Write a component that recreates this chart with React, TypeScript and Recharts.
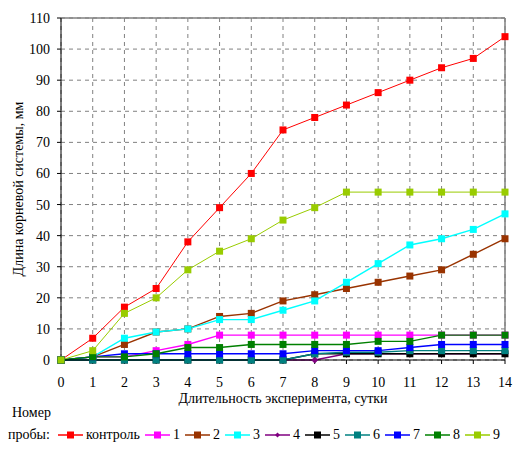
import React from "react";
import {
  LineChart,
  Line,
  XAxis,
  YAxis,
  CartesianGrid,
  ReferenceLine,
  Label,
} from "recharts";

const days = [0, 1, 2, 3, 4, 5, 6, 7, 8, 9, 10, 11, 12, 13, 14];
const yTicks = [0, 10, 20, 30, 40, 50, 60, 70, 80, 90, 100, 110];

const control = [0, 7, 17, 23, 38, 49, 60, 74, 78, 82, 86, 90, 94, 97, 104];
const s1 = [0, 1, 1, 3, 5, 8, 8, 8, 8, 8, 8, 8, 8, 8, 8];
const s2 = [0, 1, 5, 9, 10, 14, 15, 19, 21, 23, 25, 27, 29, 34, 39];
const s3 = [0, 1, 7, 9, 10, 13, 13, 16, 19, 25, 31, 37, 39, 42, 47];
const s4 = [0, 0, 0, 0, 0, 0, 0, 0, 0, 2, 2, 2, 2, 2, 2];
const s5 = [0, 0, 0, 0, 0, 0, 0, 0, 2, 2, 2, 2, 2, 2, 2];
const s6 = [0, 0, 0, 0, 0, 0, 0, 0, 2, 2.5, 2.5, 3, 3, 3, 3];
const s7 = [0, 1, 2, 2, 2, 2, 2, 2, 3, 3, 3, 4, 5, 5, 5];
const s8 = [0, 1, 1, 2, 4, 4, 5, 5, 5, 5, 6, 6, 8, 8, 8];
const s9 = [0, 3, 15, 20, 29, 35, 39, 45, 49, 54, 54, 54, 54, 54, 54];

const seriesNames = ["контроль", "1", "2", "3", "4", "5", "6", "7", "8", "9"];
const seriesValues = [control, s1, s2, s3, s4, s5, s6, s7, s8, s9];

const colors = [
  "#ff0000",
  "#ff00ff",
  "#993300",
  "#00ffff",
  "#800080",
  "#000000",
  "#008080",
  "#0000ff",
  "#008000",
  "#99cc00",
];

const FONT = '"Liberation Serif", "Times New Roman", serif';

const data = days.map((day, i) => {
  const row: Record<string, number> = { day };
  seriesValues.forEach((vals, k) => {
    row["s" + k] = vals[i];
  });
  return row;
});

function makeDot(color: string, diamond: boolean) {
  return (props: any) => {
    const { cx, cy, index } = props;
    if (cx == null || cy == null) return <g key={index} />;
    if (diamond) {
      return (
        <path
          key={index}
          d={`M${cx},${cy - 3} L${cx + 3},${cy} L${cx},${cy + 3} L${cx - 3},${cy} Z`}
          fill={color}
          stroke={color}
        />
      );
    }
    return <rect key={index} x={cx - 3.5} y={cy - 3.5} width={7} height={7} fill={color} />;
  };
}

function LegendSymbol({ color, diamond }: { color: string; diamond: boolean }) {
  return (
    <svg width={25} height={12} style={{ display: "block" }}>
      <line x1={0} y1={6} x2={25} y2={6} stroke={color} strokeWidth={1.5} />
      {diamond ? (
        <path d="M12.5,3.5 L15,6 L12.5,8.5 L10,6 Z" fill={color} />
      ) : (
        <rect x={9} y={2.5} width={7} height={7} fill={color} />
      )}
    </svg>
  );
}

export default function App() {
  return (
    <div
      style={{
        position: "fixed",
        left: 0,
        top: 0,
        width: 519,
        height: 453,
        background: "#fff",
        fontFamily: FONT,
      }}
    >
      <LineChart
        width={519}
        height={453}
        data={data}
        margin={{ top: 18, right: 14, left: 0, bottom: 63 }}
      >
        <CartesianGrid stroke="#808080" strokeDasharray="4 4" />
        <XAxis
          dataKey="day"
          type="number"
          domain={[0, 14]}
          ticks={days}
          interval={0}
          height={30}
          axisLine={{ stroke: "#000" }}
          tickLine={{ stroke: "#000" }}
          tickSize={4}
          tickMargin={13}
          tick={{ fill: "#000", fontSize: 14, fontFamily: FONT }}
        >
          <Label
            content={({ viewBox }: any) => (
              <text
                x={viewBox.x + viewBox.width / 2}
                y={403}
                textAnchor="middle"
                fontSize={14}
                fontFamily={FONT}
                fill="#000"
              >
                Длительность эксперимента, сутки
              </text>
            )}
          />
        </XAxis>
        <YAxis
          type="number"
          domain={[0, 110]}
          ticks={yTicks}
          interval={0}
          width={61}
          axisLine={{ stroke: "#000" }}
          tickLine={{ stroke: "#000" }}
          tickSize={4}
          tickMargin={7}
          tick={{ fill: "#000", fontSize: 14, fontFamily: FONT }}
        >
          <Label
            content={({ viewBox }: any) => {
              const cx = 18;
              const cy = viewBox.y + viewBox.height / 2;
              return (
                <text
                  x={cx}
                  y={cy}
                  transform={`rotate(-90 ${cx} ${cy})`}
                  textAnchor="middle"
                  dominantBaseline="central"
                  fontSize={14}
                  fontFamily={FONT}
                  fill="#000"
                >
                  Длина корневой системы, мм
                </text>
              );
            }}
          />
        </YAxis>
        <ReferenceLine y={110} stroke="#808080" strokeWidth={1.5} />
        <ReferenceLine x={14} stroke="#808080" strokeWidth={1.5} />
        {seriesNames.map((name, k) => (
          <Line
            key={name}
            name={name}
            dataKey={"s" + k}
            type="linear"
            stroke={colors[k]}
            strokeWidth={k === 0 || k === 9 ? 1 : 1.4}
            dot={makeDot(colors[k], k === 4)}
            activeDot={false}
            isAnimationActive={false}
          />
        ))}
      </LineChart>
      <div
        style={{
          position: "absolute",
          left: 12,
          top: 405,
          fontSize: 14,
          lineHeight: "16px",
          color: "#000",
        }}
      >
        Номер
      </div>
      <div
        style={{
          position: "absolute",
          left: 8,
          top: 427,
          display: "flex",
          alignItems: "center",
          fontSize: 14,
          lineHeight: "16px",
          color: "#000",
          whiteSpace: "nowrap",
        }}
      >
        <span style={{ marginRight: 8 }}>пробы:</span>
        {seriesNames.map((name, k) => (
          <span key={name} style={{ display: "flex", alignItems: "center", marginRight: 5 }}>
            <LegendSymbol color={colors[k]} diamond={k === 4} />
            <span style={{ marginLeft: 3 }}>{name}</span>
          </span>
        ))}
      </div>
    </div>
  );
}
